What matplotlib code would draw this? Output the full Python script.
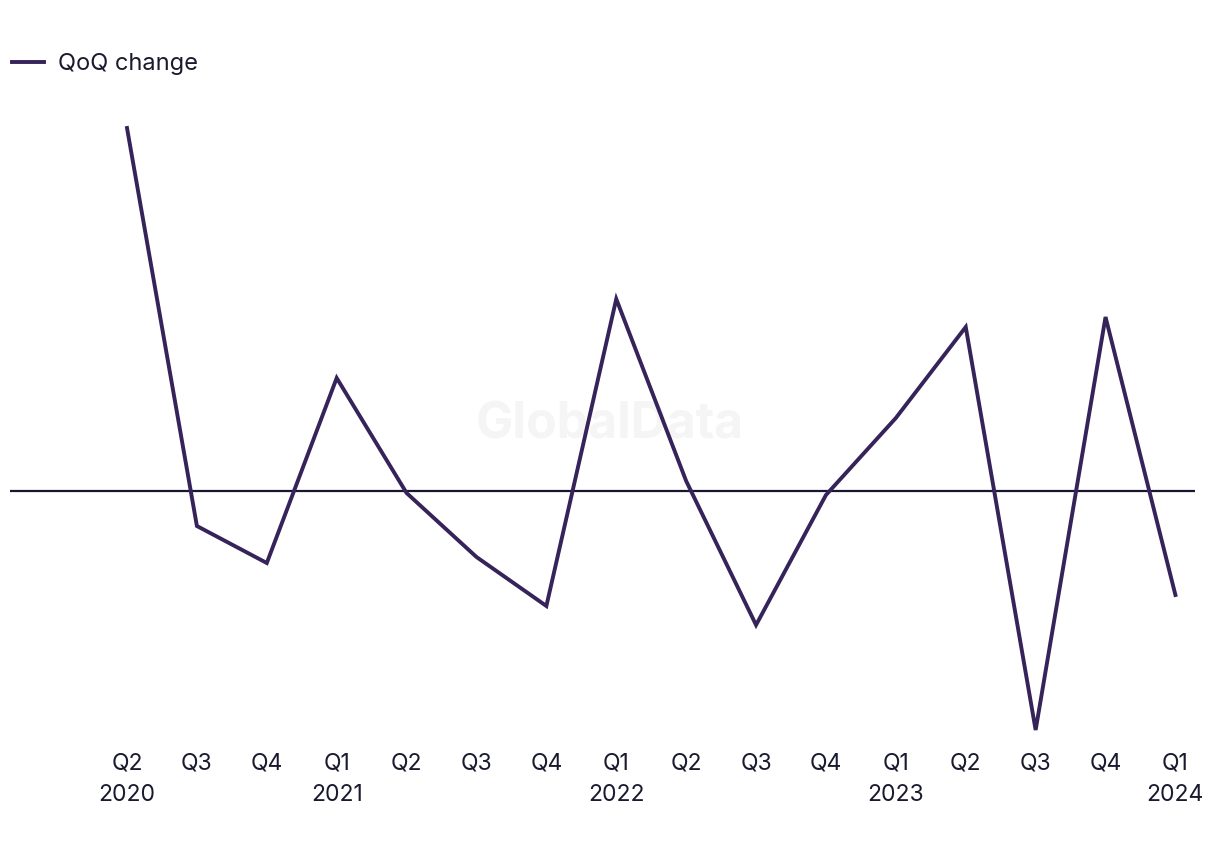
import matplotlib
matplotlib.use("Agg")
import matplotlib.pyplot as plt

plt.rcParams['font.family'] = ['Inter', 'DejaVu Sans']

quarters = ["Q2", "Q3", "Q4", "Q1", "Q2", "Q3", "Q4", "Q1", "Q2", "Q3", "Q4", "Q1", "Q2", "Q3", "Q4", "Q1"]
years = ["2020", "", "", "2021", "", "", "", "2022", "", "", "", "2023", "", "", "", "2024"]
qoq_change = [36.3, -3.5, -7.2, 11.3, -0.2, -6.6, -11.5, 19.2, 1.0, -13.4, -0.4, 7.3, 16.4, -23.9, 17.4, -10.4]

W, H = 1220, 850
fig = plt.figure(figsize=(W / 100, H / 100), dpi=100)
# axes spans pixels x 10..1195, y 100..740
ax = fig.add_axes([10 / W, 1 - 740 / H, 1185 / W, 640 / H])

x = list(range(len(qoq_change)))
ax.plot(x, qoq_change, color="#35235a", lw=2.8, solid_joinstyle="miter", label="QoQ change", zorder=3)
ax.axhline(0, color="#1a1530", lw=1.6, zorder=2)

ax.set_xlim(-1.674, 15.28)
ax.set_ylim(-24.9, 39.1)
ax.set_xticks(x)
ax.set_xticklabels([q + "\n" + y for q, y in zip(quarters, years)], fontsize=16.5, color="#1a1a2e", linespacing=1.58)
ax.tick_params(axis="x", length=0, pad=9)
ax.set_yticks([])
for s in ax.spines.values():
    s.set_visible(False)

ax.text(610 / W, 1 - 425 / H, "GlobalData", transform=fig.transFigure, ha="center", va="center",
        fontsize=36, fontweight="bold", color="#f5f5f5", zorder=1)

ax.legend(loc="upper left", bbox_to_anchor=(17 / W - 0.004, 1 - 53 / H), bbox_transform=fig.transFigure,
          frameon=False, fontsize=17, handlelength=1.35, handletextpad=0.6, borderaxespad=0,
          borderpad=0.0, labelcolor="#1a1a2e")

fig.savefig("out.png", dpi=100, facecolor="white")
